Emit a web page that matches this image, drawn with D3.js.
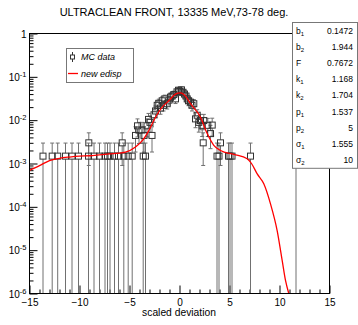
<!DOCTYPE html>
<html><head><meta charset="utf-8">
<script src="https://cdn.jsdelivr.net/npm/d3@7"></script>
<style>
html,body{margin:0;padding:0;background:#fff;}
svg{display:block;font-family:"Liberation Sans",Arial,sans-serif;}
</style></head>
<body>
<svg id="c" width="358" height="325"></svg>
<script>
// ---------- data ----------
const titleText = "ULTRACLEAN FRONT, 13335 MeV,73-78 deg.";
const xLabel = "scaled deviation";
const xTicks = [-15, -10, -5, 0, 5, 10, 15];
const yTickExps = [0, -1, -2, -3, -4, -5, -6];

// MC data points (x, y, symmetric error)
const dataX = [-13.65,-12.73,-12.18,-11.4,-10.75,-10.1,-9.1,-8.55,-8.0,-7.45,-7.2,-6.95,-6.5,-6.1,-5.57,-5.13,-4.73,-3.63,-3.4,
  3.75,3.95,4.9,5.05,5.25,7.1,11.65,
  -9.07,-5.73,2.37,4.1,
  -4.4,-4.2,-4.05,-3.75,-3.55,-3.25,-3.1,-2.95,-2.75,-2.55,-2.4,-2.23,-2.07,-1.9,-1.73,-1.6,-1.47,-1.23,-1.05,-0.9,-0.75,-0.57,-0.4,-0.25,-0.1,
  0.05,0.2,0.35,0.5,0.65,0.77,0.9,1.1,1.25,1.43,1.6,1.77,1.93,2.1,2.27,2.43,2.83,3.1,3.27];
const dataY = [1.48e-3,1.48e-3,1.48e-3,1.48e-3,1.48e-3,1.48e-3,1.48e-3,1.48e-3,1.48e-3,1.48e-3,1.48e-3,1.48e-3,1.48e-3,1.48e-3,1.48e-3,1.48e-3,1.48e-3,1.48e-3,1.48e-3,
  1.48e-3,1.48e-3,1.48e-3,1.48e-3,1.48e-3,1.48e-3,1.48e-3,
  3.0e-3,3.0e-3,3.0e-3,3.0e-3,
  4.44e-3,7.4e-3,5.9e-3,5.9e-3,4.44e-3,7.4e-3,1.04e-2,8.9e-3,4.44e-3,1.33e-2,1.63e-2,2.2e-2,2.45e-2,1.9e-2,2.8e-2,2.2e-2,3.1e-2,2.4e-2,2.9e-2,3.4e-2,3.6e-2,3.9e-2,3.1e-2,4.5e-2,4.9e-2,
  4.6e-2,5.0e-2,4.4e-2,4.0e-2,3.6e-2,3.1e-2,2.8e-2,2.6e-2,2.2e-2,2.4e-2,1.07e-2,1.3e-2,8.9e-3,9.8e-3,7.6e-3,9.8e-3,7.6e-3,4.9e-3,7.7e-3];
const dataErr = [1.48e-3,1.48e-3,1.48e-3,1.48e-3,1.48e-3,1.48e-3,1.48e-3,1.48e-3,1.48e-3,1.48e-3,1.48e-3,1.48e-3,1.48e-3,1.48e-3,1.48e-3,1.48e-3,1.48e-3,1.48e-3,1.48e-3,
  1.48e-3,1.48e-3,1.48e-3,1.48e-3,1.48e-3,1.48e-3,1.48e-3,
  2.1e-3,2.1e-3,2.1e-3,2.1e-3,
  2.6e-3,3.3e-3,3.0e-3,3.0e-3,2.6e-3,3.3e-3,3.9e-3,3.6e-3,2.6e-3,4.4e-3,4.9e-3,5.7e-3,6.0e-3,5.3e-3,6.4e-3,5.7e-3,6.8e-3,5.9e-3,6.6e-3,7.1e-3,7.3e-3,7.6e-3,6.8e-3,8.2e-3,8.5e-3,
  8.3e-3,8.6e-3,8.1e-3,7.7e-3,7.3e-3,6.8e-3,6.4e-3,6.2e-3,5.7e-3,5.9e-3,4.0e-3,4.4e-3,3.6e-3,3.8e-3,3.4e-3,3.8e-3,3.4e-3,2.7e-3,3.4e-3];

// fitted curve "new edisp"
const curveX = [-15,-14,-13,-12,-11,-10,-9,-8,-7,-6,-5.4,-4.4,-3.7,-3.07,-2.4,-1.73,-1.07,-0.4,0.1,0.5,1.1,2.1,2.77,3.43,4.1,5.43,6.77,7.2,7.77,8.43,9.1,9.77,10.27,10.6,10.93];
const curveY = [6.9e-4,8.9e-4,1.17e-3,1.32e-3,1.41e-3,1.48e-3,1.51e-3,1.58e-3,1.66e-3,1.74e-3,1.82e-3,2.4e-3,3.4e-3,5.75e-3,1.17e-2,2.0e-2,2.8e-2,3.98e-2,4.27e-2,3.8e-2,2.4e-2,1.17e-2,4.9e-3,2.63e-3,2.0e-3,1.62e-3,1.29e-3,1.0e-3,5.75e-4,3.4e-4,1.17e-4,2.8e-5,5.75e-6,2.0e-6,1.0e-6];

// fit parameters box
const statNames = ["b","b","F","k","k","p","p","\u03c3","\u03c3"];
const statSubs  = ["1","2","","1","2","1","2","1","2"];
const statValues = ["0.1472","1.944","0.7672","1.168","1.704","1.537","5","1.555","10"];

const legendLabels = ["MC data","new edisp"];

// ---------- layout ----------
const svg = d3.select("#c");
const L = 29.5, R = 329.5, T = 33.5, B = 293.5;
const x = d3.scaleLinear().domain([-15, 15]).range([L, R]);
const y = d3.scaleLog().domain([1e-6, 1]).range([B, T]);

svg.append("defs").append("clipPath").attr("id","clip")
  .append("rect").attr("x",L).attr("y",T).attr("width",R-L).attr("height",B-T);

// title
svg.append("text").attr("x",174).attr("y",16).attr("text-anchor","middle")
  .attr("font-size","11px").attr("fill","#000").text(titleText);

// axes
const axG = svg.append("g");
const xMajor = d3.axisBottom(x).tickValues(xTicks).tickSize(-8).tickPadding(12).tickFormat(d3.format("d"));
const gx = axG.append("g").attr("transform",`translate(0,${B})`).call(xMajor);
gx.select(".domain").remove();
gx.selectAll("text").attr("font-size","10px").attr("fill","#000").attr("dy","0.05em").attr("font-family","Liberation Sans, Arial, sans-serif");
gx.selectAll("line").attr("stroke","#000");
const xMinorVals = d3.range(-15, 16, 1).filter(v => v % 5 !== 0);
const gxm = axG.append("g").attr("transform",`translate(0,${B})`)
  .call(d3.axisBottom(x).tickValues(xMinorVals).tickSize(-4).tickFormat(""));
gxm.select(".domain").remove();
gxm.selectAll("line").attr("stroke","#000");

const yMajor = d3.axisLeft(y).tickValues(yTickExps.map(e => Math.pow(10, e))).tickSize(-8).tickPadding(10).tickFormat("");
const gy = axG.append("g").attr("transform",`translate(${L},0)`).call(yMajor);
gy.select(".domain").remove();
gy.selectAll("line").attr("stroke","#000");
gy.selectAll(".tick").each(function(d, i) {
  const e = Math.round(Math.log10(d));
  const t = d3.select(this).append("text").attr("x",-3).attr("y",3.5)
     .attr("text-anchor","end").attr("font-size","10px").attr("fill","#000")
     .attr("font-family","Liberation Sans, Arial, sans-serif");
  if (e === 0) { t.text("1"); }
  else {
    t.append("tspan").text("10");
    t.append("tspan").attr("dy","-4").attr("font-size","7.5px").text(String(e));
  }
});
const yMinorVals = [];
for (let e = -6; e < 0; e++) for (let m = 2; m <= 9; m++) yMinorVals.push(m * Math.pow(10, e));
const gym = axG.append("g").attr("transform",`translate(${L},0)`)
  .call(d3.axisLeft(y).tickValues(yMinorVals).tickSize(-4).tickFormat(""));
gym.select(".domain").remove();
gym.selectAll("line").attr("stroke","#000");

// data
const pts = dataX.map((v,i) => ({x:v, y:dataY[i], e:dataErr[i]}));
const dg = svg.append("g").attr("clip-path","url(#clip)");
const barCol = "#707070";
pts.forEach(p => {
  const cx = x(p.x), cy = y(p.y);
  const yTop = y(p.y + p.e);
  const lo = p.y - p.e;
  const yBot = lo > 1e-6 ? y(lo) : B + 2;
  dg.append("line").attr("x1",cx).attr("x2",cx).attr("y1",yTop).attr("y2",cy-3)
    .attr("stroke",barCol).attr("stroke-width",1);
  dg.append("line").attr("x1",cx).attr("x2",cx).attr("y1",cy+3).attr("y2",yBot)
    .attr("stroke",barCol).attr("stroke-width",1);
  dg.append("line").attr("x1",cx-2).attr("x2",cx+2).attr("y1",yTop).attr("y2",yTop)
    .attr("stroke",barCol).attr("stroke-width",1);
  if (lo > 1e-6) dg.append("line").attr("x1",cx-2).attr("x2",cx+2).attr("y1",yBot).attr("y2",yBot)
    .attr("stroke",barCol).attr("stroke-width",1);
});
dg.selectAll("rect.pt").data(pts).enter().append("rect").attr("class","pt")
  .attr("x", d => x(d.x) - 3).attr("y", d => y(d.y) - 3)
  .attr("width",6).attr("height",6).attr("fill","none").attr("stroke","#333").attr("stroke-width",1);

// curve
const cpts = curveX.map((v,i) => [v, curveY[i]]);
dg.append("path").datum(cpts)
  .attr("d", d3.line().x(d => x(d[0])).y(d => y(d[1])).curve(d3.curveMonotoneX))
  .attr("fill","none").attr("stroke","#ff0000").attr("stroke-width",1.3);

// frame
svg.append("rect").attr("x",L).attr("y",T).attr("width",R-L).attr("height",B-T)
  .attr("fill","none").attr("stroke","#000").attr("stroke-width",1);

// x label
svg.append("text").attr("x",179).attr("y",316).attr("text-anchor","middle")
  .attr("font-size","10.3px").attr("fill","#000").text(xLabel);

// legend
const lg = svg.append("g");
lg.append("rect").attr("x",66.5).attr("y",48.5).attr("width",67).attr("height",34)
  .attr("fill","#fff").attr("stroke","#777").attr("stroke-width",1);
lg.append("line").attr("x1",72.5).attr("x2",72.5).attr("y1",52).attr("y2",62).attr("stroke","#333");
lg.append("rect").attr("x",70.5).attr("y",55).attr("width",4).attr("height",4).attr("fill","#fff").attr("stroke","#333");
lg.append("line").attr("x1",68).attr("x2",78).attr("y1",73.5).attr("y2",73.5).attr("stroke","#ff0000").attr("stroke-width",1.3);
legendLabels.forEach((t,i) => {
  lg.append("text").attr("x",81).attr("y",60 + i*16.5).attr("font-size","9px")
    .attr("font-style","italic").attr("fill","#000").text(t);
});

// stats box
const sb = svg.append("g");
const sbTop = 22.5, rowH = 16.2;
sb.append("rect").attr("x",292.5).attr("y",sbTop).attr("width",65).attr("height",rowH*statNames.length)
  .attr("fill","#fff").attr("stroke","#777").attr("stroke-width",1);
statNames.forEach((n,i) => {
  const yy = sbTop + rowH*i + 11;
  const t = sb.append("text").attr("x",296).attr("y",yy).attr("font-size","8.5px").attr("fill","#000");
  t.append("tspan").text(n);
  if (statSubs[i]) t.append("tspan").attr("dy","2").attr("font-size","6px").text(statSubs[i]);
  sb.append("text").attr("x",353).attr("y",yy).attr("text-anchor","end").attr("font-size","8.5px")
    .attr("fill","#000").text(statValues[i]);
});
</script>
</body></html>
